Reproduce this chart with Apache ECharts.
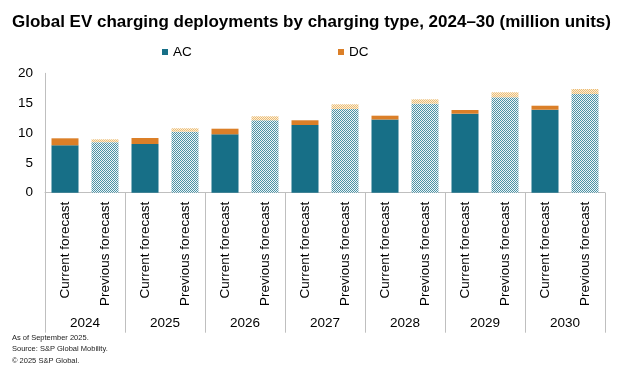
<!DOCTYPE html>
<html>
<head>
<meta charset="utf-8">
<script src="https://cdn.jsdelivr.net/npm/echarts@6/dist/echarts.min.js"></script>
<style>
html,body{margin:0;padding:0;background:#fff;}
#chart{width:627px;height:372px;}
</style>
</head>
<body>
<div id="chart"></div>
<script>
// ---- data ----
var years = ['2024', '2025', '2026', '2027', '2028', '2029', '2030'];
var forecastTypes = ['Current forecast', 'Previous forecast'];
var acCurrent  = [7.94, 8.16, 9.78, 11.34, 12.26, 13.23, 13.90];
var dcCurrent  = [1.17, 1.00, 0.94, 0.79, 0.64, 0.62, 0.67];
var acPrevious = [8.46, 10.22, 12.13, 14.02, 14.91, 15.98, 16.53];
var dcPrevious = [0.48, 0.57, 0.67, 0.79, 0.73, 0.84, 0.84];
var yTicks = [0, 5, 10, 15, 20];
var footerLines = ['As of September 2025.', 'Source: S&P Global Mobility.', '\u00a9 2025 S&P Global.'];

// ---- styles ----
var AC_COLOR = '#176F87';
var DC_COLOR = '#DB7F28';
var FONT = 'Liberation Sans, Arial, sans-serif';

function makePattern(c1, c2) {
  var cv = document.createElement('canvas');
  cv.width = 4; cv.height = 4;
  var ctx = cv.getContext('2d');
  ctx.fillStyle = c2;
  ctx.fillRect(0, 0, 4, 4);
  ctx.fillStyle = c1;
  for (var y = 0; y < 4; y++) {
    for (var x = 0; x < 4; x++) {
      if ((x + y) % 2 === 0) ctx.fillRect(x, y, 1, 1);
    }
  }
  return { image: cv, repeat: 'repeat' };
}
var acPattern = makePattern('#4C93A6', '#EEF5F7');
var dcPattern = makePattern('#EBBB74', '#FCEFD8');

var categories = [];
var acData = [];
var dcData = [];
years.forEach(function (yr, i) {
  categories.push(forecastTypes[0]);
  acData.push(acCurrent[i]);
  dcData.push(dcCurrent[i]);
  categories.push(forecastTypes[1]);
  acData.push({ value: acPrevious[i], itemStyle: { color: acPattern } });
  dcData.push({ value: dcPrevious[i], itemStyle: { color: dcPattern } });
});

var chart = echarts.init(document.getElementById('chart'), null, { renderer: 'canvas' });
chart.setOption({
  animation: false,
  backgroundColor: '#ffffff',
  title: [{
    text: 'Global EV charging deployments by charging type, 2024\u201330 (million units)',
    left: 12, top: 14, padding: 0,
    textStyle: { fontFamily: FONT, fontSize: 17, fontWeight: 'bold', color: '#000' }
  }, {
    text: footerLines.join('\n'),
    left: 12, top: 332, padding: 0,
    textStyle: { fontFamily: FONT, fontSize: 7.5, fontWeight: 'normal', color: '#222', lineHeight: 11.5 }
  }],
  legend: [{
    data: ['AC'], left: 162, top: 45, padding: 0,
    icon: 'rect', itemWidth: 6, itemHeight: 6, itemGap: 5,
    textStyle: { fontFamily: FONT, fontSize: 13.5, color: '#000' }
  }, {
    data: ['DC'], left: 338, top: 45, padding: 0,
    icon: 'rect', itemWidth: 6, itemHeight: 6, itemGap: 5,
    textStyle: { fontFamily: FONT, fontSize: 13.5, color: '#000' }
  }],
  grid: { left: 45, right: 22, top: 73.3, bottom: 179.3, containLabel: false },
  xAxis: [{
    type: 'category',
    data: categories,
    position: 'bottom',
    axisLine: { show: true, lineStyle: { color: '#BFBFBF', width: 1 } },
    axisTick: { show: false },
    axisLabel: { interval: 0, rotate: 90, margin: 9, fontFamily: FONT, fontSize: 13.5, color: '#000' }
  }, {
    type: 'category',
    data: years,
    position: 'bottom',
    axisLine: { show: false },
    axisTick: { show: true, length: 140, lineStyle: { color: '#BFBFBF', width: 1 } },
    axisLabel: { interval: 0, margin: 124, fontFamily: FONT, fontSize: 13.5, color: '#000' }
  }],
  yAxis: {
    type: 'value',
    min: yTicks[0], max: yTicks[yTicks.length - 1], interval: 5,
    axisLine: { show: true, lineStyle: { color: '#BFBFBF', width: 1 } },
    axisTick: { show: false },
    splitLine: { show: false },
    axisLabel: { margin: 12, fontFamily: FONT, fontSize: 13.5, color: '#000' }
  },
  series: [{
    name: 'AC', type: 'bar', stack: 'total', barWidth: 27,
    itemStyle: { color: AC_COLOR },
    data: acData
  }, {
    name: 'DC', type: 'bar', stack: 'total', barWidth: 27,
    itemStyle: { color: DC_COLOR },
    data: dcData
  }]
});
</script>
</body>
</html>
